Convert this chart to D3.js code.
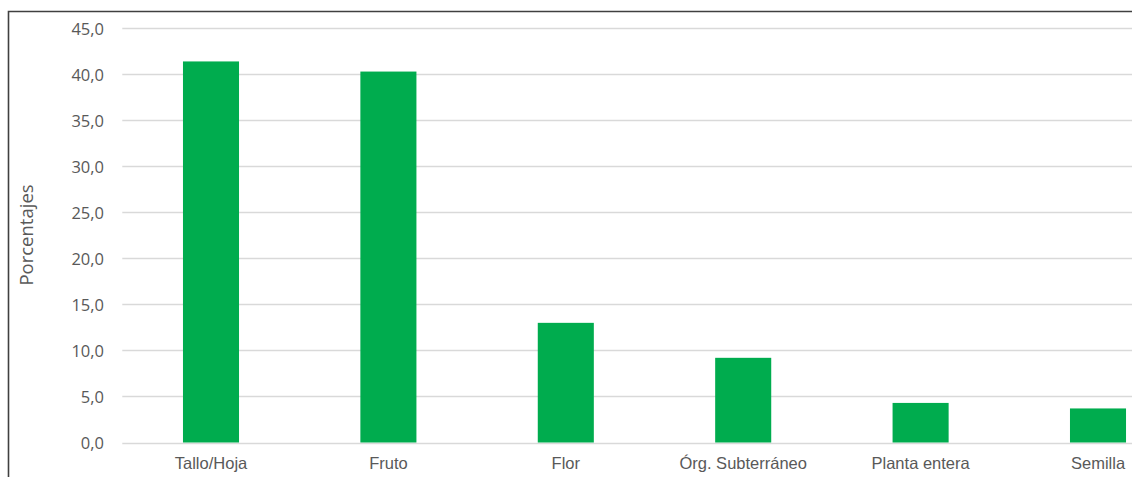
<!DOCTYPE html>
<html>
<head>
<meta charset="utf-8">
<script src="https://cdn.jsdelivr.net/npm/d3@7"></script>
<style>
  html, body { margin: 0; padding: 0; background: #fff; }
  svg { display: block; }
</style>
</head>
<body>
<svg id="chart" width="1132" height="477"></svg>
<script>
// Share of plant part used (percentages)
const categories = ["Tallo/Hoja", "Fruto", "Flor", "Órg. Subterráneo", "Planta entera", "Semilla"];
const values = [41.4, 40.3, 13.0, 9.2, 4.3, 3.7];
const yTicks = [0, 5, 10, 15, 20, 25, 30, 35, 40, 45];

const svg = d3.select("#chart");
const W = 1132, H = 477;

// plot area (extends past the right edge of the frame)
const plotLeft = 122.3, band = 177.4;
const plotTop = 28.3, plotBottom = 442.5;

const x = d3.scaleBand()
  .domain(categories)
  .range([plotLeft, plotLeft + band * categories.length])
  .paddingInner(0.684)
  .paddingOuter(0.342);

const y = d3.scaleLinear().domain([0, 45]).range([plotBottom, plotTop]);

// outer frame
svg.append("path")
  .attr("d", `M8.5,${H} L8.5,11.5 L${W},11.5`)
  .attr("fill", "none")
  .attr("stroke", "#404040")
  .attr("stroke-width", 1.6);

// gridlines
svg.append("g")
  .selectAll("line")
  .data(yTicks)
  .join("line")
  .attr("x1", plotLeft)
  .attr("x2", W)
  .attr("y1", d => Math.round(y(d)) + 0.5)
  .attr("y2", d => Math.round(y(d)) + 0.5)
  .attr("stroke", "#d9d9d9")
  .attr("stroke-width", 1.3);

// y axis labels
const yAxis = d3.axisLeft(y)
  .tickValues(yTicks)
  .tickSize(0)
  .tickPadding(0)
  .tickFormat(d => d3.format(".1f")(d).replace(".", ","));

svg.append("g")
  .attr("transform", "translate(104,0)")
  .call(yAxis)
  .call(g => g.select(".domain").remove())
  .call(g => g.selectAll("text")
    .attr("fill", "#595959")
    .attr("font-family", "'Open Sans', 'Noto Sans', sans-serif")
    .attr("font-size", 16.5)
    .attr("dy", "0.35em"));

// bars
svg.append("g")
  .selectAll("rect")
  .data(categories.map((c, i) => ({ c, v: values[i] })))
  .join("rect")
  .attr("x", d => x(d.c))
  .attr("width", x.bandwidth())
  .attr("y", d => y(d.v))
  .attr("height", d => y(0) - y(d.v))
  .attr("fill", "#00ac4e");

// x axis labels
const xAxis = d3.axisBottom(x).tickSize(0).tickPadding(0);
svg.append("g")
  .attr("transform", `translate(0,${plotBottom})`)
  .call(xAxis)
  .call(g => g.select(".domain").remove())
  .call(g => g.selectAll("text")
    .attr("fill", "#595959")
    .attr("font-family", "'Liberation Sans', Arial, sans-serif")
    .attr("font-size", 16.5)
    .attr("y", 26.5)
    .attr("dy", 0));

// y axis title
svg.append("text")
  .attr("transform", "translate(33,235) rotate(-90)")
  .attr("text-anchor", "middle")
  .attr("fill", "#595959")
  .attr("font-family", "'Open Sans', 'Noto Sans', sans-serif")
  .attr("font-size", 18.5)
  .text("Porcentajes");
</script>
</body>
</html>
